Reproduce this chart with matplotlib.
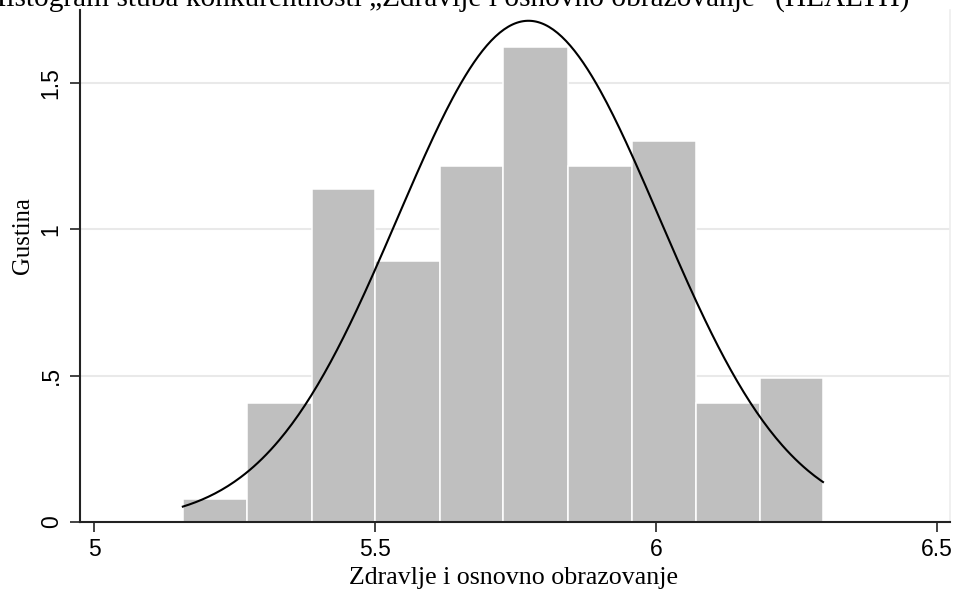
import matplotlib
matplotlib.use('Agg')
import matplotlib.pyplot as plt
import numpy as np

# histogram bins (density scale)
bin_edges = [5.158, 5.272, 5.388, 5.500, 5.616, 5.728, 5.843, 5.957, 6.071, 6.185, 6.297]
densities = [0.080, 0.408, 1.138, 0.892, 1.217, 1.624, 1.217, 1.302, 0.408, 0.493]
# fitted normal curve
norm_mean = 5.773
norm_sd = 0.233

x_ticks = [5, 5.5, 6, 6.5]
x_tick_labels = ['5', '5.5', '6', '6.5']
y_ticks = [0, 0.5, 1, 1.5]
y_tick_labels = ['0', '.5', '1', '1.5']

title = 'Histogram stuba konkurentnosti \u201eZdravlje i osnovno obrazovanje\u201d (HEALTH)'
xlabel = 'Zdravlje i osnovno obrazovanje'
ylabel = 'Gustina'

W, H = 954, 592
fig = plt.figure(figsize=(W / 100, H / 100), dpi=100)
ax = fig.add_axes([80 / W, 1 - 522 / H, 870 / W, 512 / H])

BAR = '#bfbfbf'
GRID = '#e9e9e9'
SERIF = 'Liberation Serif'
SANS = 'Liberation Sans'

# gridlines
for yv in y_ticks[1:]:
    ax.axhline(yv, color=GRID, lw=1.5, zorder=0)

edges = np.array(bin_edges)
ax.bar(edges[:-1], densities, width=np.diff(edges), align='edge',
       color=BAR, edgecolor='white', linewidth=1.1, zorder=2)

xs = np.linspace(edges[0], edges[-1], 300)
ys = np.exp(-0.5 * ((xs - norm_mean) / norm_sd) ** 2) / (norm_sd * np.sqrt(2 * np.pi))
ax.plot(xs, ys, color='black', lw=1.5, zorder=3)

ax.set_xlim(4.975, 6.523)
ax.set_ylim(0, 1.749)
ax.set_xticks(x_ticks)
ax.set_xticklabels(x_tick_labels, family=SANS, fontsize=16.5)
ax.set_yticks(y_ticks)
ax.set_yticklabels(y_tick_labels, family=SANS, fontsize=16.5, rotation=90, va='center')
ax.tick_params(axis='both', length=7.5, width=1.2, color='#222')
ax.tick_params(axis='x', pad=4)
ax.tick_params(axis='y', pad=5)

for s in ['left', 'bottom']:
    ax.spines[s].set_linewidth(1.5)
    ax.spines[s].set_color('#222')
ax.spines['top'].set_visible(False)
ax.spines['right'].set_color('#eeeeee')
ax.spines['right'].set_linewidth(1.2)

fig.text(-15 / W, 1 - 6 / H, title, family=SERIF, fontsize=21.2, va='baseline', ha='left')
fig.text(514 / W, 1 - 584 / H, xlabel, family=SERIF, fontsize=18.6, va='baseline', ha='center')
fig.text(23 / W, 1 - 236 / H, ylabel, family=SERIF, fontsize=17.8, rotation=90, va='center', ha='center')

fig.savefig('out.png', dpi=100, facecolor='white')
